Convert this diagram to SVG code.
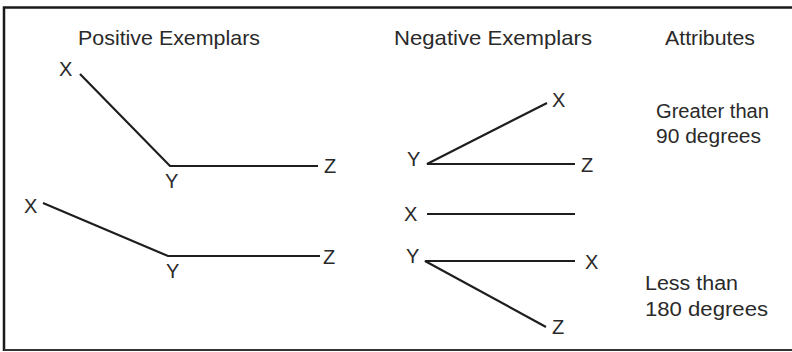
<svg xmlns="http://www.w3.org/2000/svg" width="792" height="352" viewBox="0 0 792 352">
<style>
text{font-family:"Liberation Sans",Arial,sans-serif;fill:#2a2a2a;font-size:20px}
.t{font-size:21px}
.ln{stroke:#1e1e1e;stroke-width:2.2;fill:none;stroke-linecap:butt}
</style>
<rect x="0" y="0" width="792" height="352" fill="#fff"/>
<path d="M4,351 V7.5 H792" fill="none" stroke="#1a1a1a" stroke-width="2.5"/>
<line x1="4" y1="350" x2="792" y2="350" stroke="#333" stroke-width="2"/>
<g id="title-positive"><text class="t" x="78" y="45" textLength="182" lengthAdjust="spacingAndGlyphs">Positive Exemplars</text></g>
<g id="title-negative"><text class="t" x="394" y="45" textLength="198" lengthAdjust="spacingAndGlyphs">Negative Exemplars</text></g>
<g id="title-attributes"><text class="t" x="665" y="45" textLength="90" lengthAdjust="spacingAndGlyphs">Attributes</text></g>
<g id="attr-greater"><text x="656" y="118" textLength="113" lengthAdjust="spacingAndGlyphs">Greater than</text><text x="656" y="143" textLength="105" lengthAdjust="spacingAndGlyphs">90 degrees</text></g>
<g id="attr-less"><text x="645" y="290" textLength="93" lengthAdjust="spacingAndGlyphs">Less than</text><text x="645" y="316" textLength="123" lengthAdjust="spacingAndGlyphs">180 degrees</text></g>
<g id="pos1">
<text x="59" y="76">X</text><text x="165" y="188">Y</text><text x="324" y="173">Z</text>
</g>
<g id="pos2">
<text x="24" y="213">X</text><text x="166" y="278">Y</text><text x="323" y="264">Z</text>
</g>
<g id="neg1">
<text x="407" y="166">Y</text><text x="552" y="107">X</text><text x="581" y="172">Z</text>
</g>
<g id="neg2">
<text x="404" y="221">X</text>
</g>
<g id="neg3">
<text x="406" y="263">Y</text><text x="585" y="269">X</text><text x="552" y="334">Z</text>
</g>
<g id="connectors">
<polyline class="ln" points="80,74 170,166 318,166"/>
<polyline class="ln" points="43,203 168,256 320,256"/>
<line class="ln" x1="168" y1="256" x2="320" y2="256" stroke-width="3"/>
<polyline class="ln" points="547,103 427,164 575,164"/>
<line class="ln" x1="427" y1="214" x2="575" y2="214"/>
<polyline class="ln" points="575,261 425,261 546,327"/>
</g>
</svg>
